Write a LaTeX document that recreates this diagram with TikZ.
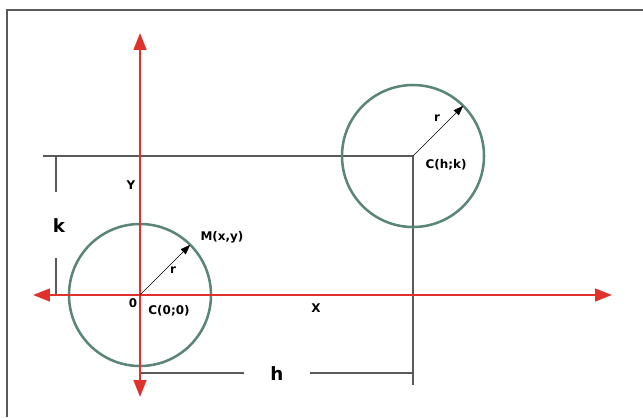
\documentclass[tikz,border=0pt]{standalone}
\usepackage{fontspec}
\setmainfont{DejaVu Sans}
\usepackage{tikz}
\usetikzlibrary{arrows.meta,calc}
\usepackage{xcolor}
\definecolor{axisRed}{HTML}{E0322B}
\definecolor{circleGreen}{HTML}{5B8577}
\definecolor{lineGray}{HTML}{5A5A5A}

\begin{document}
\begin{tikzpicture}[x=0.025cm, y=-0.025cm,
    axisLine/.style={draw=axisRed, line width=1.6pt, {Triangle[length=12pt, width=9pt]}-{Triangle[length=12pt, width=9pt]}},
    circleLine/.style={draw=circleGreen, line width=1.8pt},
    dimLine/.style={draw=lineGray, line width=1pt},
    radiusLine/.style={draw=black, line width=0.4pt, -{Triangle[length=7pt, width=5pt]}},
    ptLabel/.style={font=\bfseries\fontsize{8.5}{9}\selectfont, inner sep=1pt},
    dimLabel/.style={font=\bfseries\fontsize{13}{14}\selectfont, inner sep=0pt}
]
    \useasboundingbox (0,0) rectangle (643,417);
    \draw[draw=lineGray, line width=1pt] (7,417) -- (7,10) -- (643,10);

    \coordinate (O) at (140,295);
    \coordinate (C) at (413,156);
    \coordinate (xLeft) at (33,295);
    \coordinate (xRight) at (612,295);
    \coordinate (yTop) at (140,33);
    \coordinate (yBot) at (140,397);
    \coordinate (M) at ($(O)+(-45:71)$);
    \coordinate (P) at ($(C)+(-45:71)$);

    % dimension lines
    \coordinate (hkLeft) at (43,156);
    \coordinate (hTick) at (413,385);
    \coordinate (kTop) at (56,156);
    \coordinate (kBot) at (56,295);
    \coordinate (hLeft) at (140,373);
    \coordinate (hRight) at (413,373);
    \node[dimLabel] (kLbl) at (59,226) {k};
    \node[dimLabel, minimum width=1.65cm] (hLbl) at (277,374) {h};
    \draw[dimLine] (hkLeft) -- (C) -- (hTick);
    \draw[dimLine] (kTop) -- ($(kTop)+(0,36)$);
    \draw[dimLine] ($(kBot)+(0,-37)$) -- (kBot);
    \draw[dimLine] (hLeft) -- (hLbl.west |- hLeft);
    \draw[dimLine] (hLbl.east |- hRight) -- (hRight);

    % circles
    \draw[circleLine] (O) circle (71);
    \draw[circleLine] (C) circle (71);

    % axes
    \draw[axisLine] (xLeft) -- (xRight);
    \draw[axisLine] (yBot) -- (yTop);

    % radii
    \draw[radiusLine] (O) -- (M);
    \draw[radiusLine] (C) -- (P);

    \node[ptLabel] (yLbl) at (131,185) {Y};
    \node[ptLabel] (xLbl) at (316,308) {X};
    \node[ptLabel] (oLbl) at (133,303) {0};
    \node[ptLabel] (c1Lbl) at (169,311) {C(0;0)};
    \node[ptLabel] (mLbl) at (222,237) {M(x,y)};
    \node[ptLabel] (r1Lbl) at (173,270) {r};
    \node[ptLabel] (r2Lbl) at (437,118) {r};
    \node[ptLabel] (c2Lbl) at (446,165) {C(h;k)};
\end{tikzpicture}
\end{document}
